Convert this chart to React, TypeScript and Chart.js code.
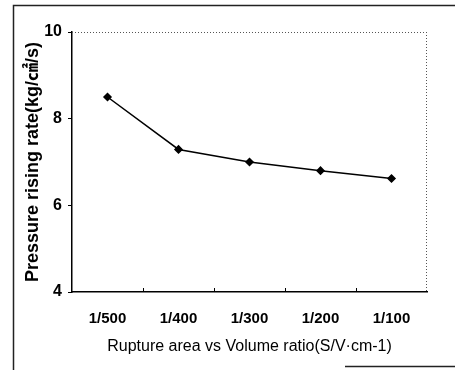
import React, { useEffect, useRef } from "react";
import { Chart, registerables } from "chart.js";

Chart.register(...registerables);

const categories = ["1/500", "1/400", "1/300", "1/200", "1/100"];
const pressureRate = [8.5, 7.29, 7.0, 6.8, 6.62];
const yMin = 4;
const yMax = 10;
const yStep = 2;
const xTitle = "Rupture area vs Volume ratio(S/V·cm-1)";
const yTitle = "Pressure rising rate(kg/㎠/s)";

const framePlugin = {
  id: "framePlugin",
  afterDraw(chart: any) {
    const { ctx, chartArea } = chart;
    const xs = chart.scales.x;
    ctx.save();
    // outer photo frame
    ctx.strokeStyle = "#222";
    ctx.lineWidth = 1.5;
    ctx.beginPath();
    ctx.moveTo(13.5, 370);
    ctx.lineTo(13.5, 5.5);
    ctx.lineTo(455, 5.5);
    ctx.moveTo(345, 366.5);
    ctx.lineTo(455, 366.5);
    ctx.stroke();
    // dotted top/right plot border
    ctx.strokeStyle = "#555";
    ctx.lineWidth = 1;
    ctx.setLineDash([1, 2]);
    ctx.beginPath();
    ctx.moveTo(chartArea.left, chartArea.top + 0.5);
    ctx.lineTo(chartArea.right, chartArea.top + 0.5);
    ctx.moveTo(chartArea.right - 0.5, chartArea.top);
    ctx.lineTo(chartArea.right - 0.5, chartArea.bottom);
    ctx.stroke();
    ctx.setLineDash([]);
    ctx.strokeStyle = "#000";
    ctx.beginPath();
    for (let i = 1; i < categories.length; i++) {
      const px = Math.round(xs.getPixelForValue(i - 0.5)) + 0.5;
      ctx.moveTo(px, chartArea.bottom);
      ctx.lineTo(px, chartArea.bottom - 4);
    }
    ctx.stroke();
    ctx.restore();
  },
};

export default function App() {
  const ref = useRef<HTMLCanvasElement>(null);
  useEffect(() => {
    if (!ref.current) return;
    const chart = new Chart(ref.current, {
      type: "line",
      data: {
        labels: categories,
        datasets: [
          {
            data: pressureRate,
            borderColor: "#000",
            backgroundColor: "#000",
            borderWidth: 1.5,
            pointStyle: "rectRot",
            pointRadius: 3.5,
            pointHoverRadius: 3.5,
            tension: 0,
          },
        ],
      },
      plugins: [framePlugin],
      options: {
        animation: false,
        responsive: false,
        maintainAspectRatio: false,
        layout: { padding: { left: 0, right: 28, top: 32, bottom: 0 } },
        plugins: { legend: { display: false }, tooltip: { enabled: false } },
        scales: {
          x: {
            type: "category",
            offset: true,
            grid: { display: true, drawOnChartArea: false, drawTicks: false },
            border: { display: true, color: "#000", width: 1.5 },
            ticks: {
              color: "#000",
              padding: 18,
              maxRotation: 0,
              font: { family: "'Liberation Sans', Arial, sans-serif", size: 15, weight: "bold" },
            },
            title: {
              display: true,
              text: xTitle,
              color: "#000",
              padding: { top: 0, bottom: 14 },
              font: { family: "'Liberation Sans', Arial, sans-serif", size: 16 },
            },
            afterFit: (s: any) => {
              s.height = 78;
            },
          },
          y: {
            min: yMin,
            max: yMax,
            ticks: {
              stepSize: yStep,
              color: "#000",
              padding: 6,
              font: { family: "'Liberation Sans', Arial, sans-serif", size: 16, weight: "bold" },
            },
            grid: { display: true, drawOnChartArea: false, drawTicks: true, tickLength: 4, color: "#000" },
            border: { display: true, color: "#000", width: 1.5 },
            title: {
              display: true,
              text: yTitle,
              color: "#000",
              padding: { top: 22, bottom: 0 },
              font: { family: "'Liberation Sans', 'Noto Sans CJK KR', Arial, sans-serif", size: 18, weight: "bold" },
            },
            afterFit: (s: any) => {
              s.width = 72;
            },
          },
        },
      },
    });
    return () => chart.destroy();
  }, []);

  return (
    <div style={{ position: "absolute", left: 0, top: 0, width: 455, height: 370, background: "#fff" }}>
      <canvas ref={ref} width={455} height={370} style={{ position: "absolute", left: 0, top: 0 }} />
    </div>
  );
}
